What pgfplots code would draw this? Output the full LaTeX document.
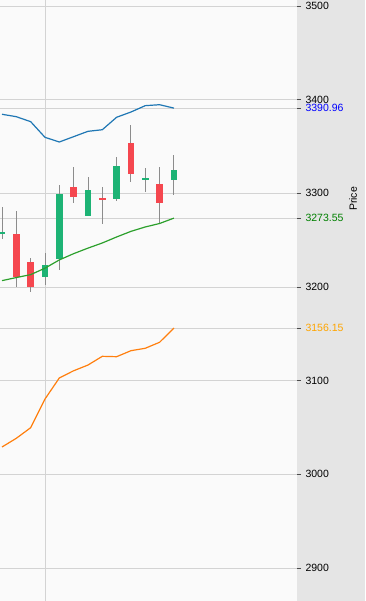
\documentclass[border=0pt]{standalone}
\usepackage{pgfplots}
\pgfplotsset{compat=1.18}
\usepackage{pgfplotstable}
\usepackage{fontspec}
\setmainfont{Liberation Sans}
\definecolor{bgplot}{HTML}{FAFAFA}
\definecolor{bgpanel}{HTML}{E5E5E5}
\definecolor{gridc}{HTML}{D3D3D3}
\definecolor{upc}{HTML}{1DB375}
\definecolor{downc}{HTML}{F5474F}
\definecolor{wickc}{HTML}{8C8C8C}
\definecolor{tabblue}{HTML}{1F77B4}
\definecolor{tabgreen}{HTML}{2CA02C}
\definecolor{taborange}{HTML}{FF7F0E}
\definecolor{lblblue}{HTML}{0000FF}
\definecolor{lblgreen}{HTML}{008000}
\definecolor{lblorange}{HTML}{FFA500}

\pgfplotstableread{
x o h l c
0 3257.0 3285.7 3250.9 3258.6
3 3210.4 3236.0 3202.1 3223.2
4 3230.2 3308.9 3218.2 3299.3
6 3276.3 3317.1 3275.5 3303.6
8 3293.6 3338.5 3292.1 3328.9
10 3315.0 3326.7 3301.8 3316.4
12 3313.9 3340.6 3297.9 3324.9
}\upcandles

\pgfplotstableread{
x o h l c
1 3256.6 3281.5 3199.7 3210.4
2 3226.7 3230.6 3195.0 3199.7
5 3306.4 3327.8 3290.0 3296.4
7 3295.0 3306.4 3267.3 3293.8
9 3353.4 3373.0 3312.1 3320.3
11 3309.6 3327.8 3268.0 3289.4
}\downcandles

\pgfplotstableread{
x upper middle lower
0 3384.4 3206.8 3029.2
1 3381.8 3210.1 3038.5
2 3376.5 3213.2 3049.8
3 3359.8 3220.1 3080.4
4 3354.8 3228.9 3102.9
5 3360.5 3235.6 3110.6
6 3366.2 3241.5 3116.7
7 3367.9 3247.0 3126.0
8 3381.2 3253.4 3125.6
9 3386.8 3259.4 3132.0
10 3393.6 3264.1 3134.6
11 3394.6 3267.8 3141.0
12 3390.96 3273.55 3156.15
}\bands

\begin{document}
\begin{tikzpicture}
\useasboundingbox (0,0) rectangle (365pt,601pt);
\fill[bgpanel] (297pt,0) rectangle (365pt,601pt);
\begin{axis}[
  at={(0,0)}, anchor=south west,
  scale only axis, width=297pt, height=601pt,
  xmin=-0.14, xmax=20.59,
  ymin=2864.8, ymax=3506.4,
  axis background/.style={fill=bgplot},
  axis line style={draw=none},
  xtick={3}, xticklabels={}, xmajorgrids,
  x tick style={draw=none},
  ytick={2900,3000,...,3500},
  ymajorgrids,
  grid style={gridc, line width=0.8pt},
  ytick pos=right, yticklabel pos=right,
  tick align=outside,
  major tick length=4pt,
  y tick style={black!70, line width=0.6pt},
  /pgf/number format/assume math mode=true,
  /pgf/number format/1000 sep={},
  yticklabel style={font=\fontsize{10.5}{12}\selectfont, anchor=west, xshift=1pt},
  extra y ticks={3390.96,3273.55,3156.15},
  extra y tick labels={\textcolor{lblblue}{3390.96},\textcolor{lblgreen}{3273.55},\textcolor{lblorange}{3156.15}},
  extra y tick style={grid=major},
  ylabel={Price},
  every axis y label/.style={at={(rel axis cs:1,0.669)}, rotate=90, anchor=center, yshift=-56pt, font=\fontsize{10.5}{12}\selectfont},
  clip=true,
  wick/.style={only marks, mark=*, mark size=0pt, mark options={draw=none, fill=none}, forget plot,
    error bars/.cd, y dir=both, y explicit, error mark=none,
    error bar style={wickc, line width=0.9pt}},
  body/.style={only marks, mark=*, mark size=0pt, mark options={draw=none, fill=none}, forget plot,
    error bars/.cd, y dir=both, y explicit, error mark=none,
    error bar style={#1, line width=6.5pt}},
]
% wicks
\addplot[wick]
  table[x=x, y expr={(\thisrow{h}+\thisrow{l})/2}, y error expr={(\thisrow{h}-\thisrow{l})/2}] {\upcandles};
\addplot[wick]
  table[x=x, y expr={(\thisrow{h}+\thisrow{l})/2}, y error expr={(\thisrow{h}-\thisrow{l})/2}] {\downcandles};
% bodies
\addplot[body=upc]
  table[x=x, y expr={(\thisrow{o}+\thisrow{c})/2}, y error expr={abs(\thisrow{c}-\thisrow{o})/2}] {\upcandles};
\addplot[body=downc]
  table[x=x, y expr={(\thisrow{o}+\thisrow{c})/2}, y error expr={abs(\thisrow{c}-\thisrow{o})/2}] {\downcandles};
% bands
\addplot[tabblue, line width=1.2pt, mark=none] table[x=x, y=upper] {\bands};
\addplot[tabgreen, line width=1.2pt, mark=none] table[x=x, y=middle] {\bands};
\addplot[taborange, line width=1.2pt, mark=none] table[x=x, y=lower] {\bands};
\end{axis}
\end{tikzpicture}
\end{document}
